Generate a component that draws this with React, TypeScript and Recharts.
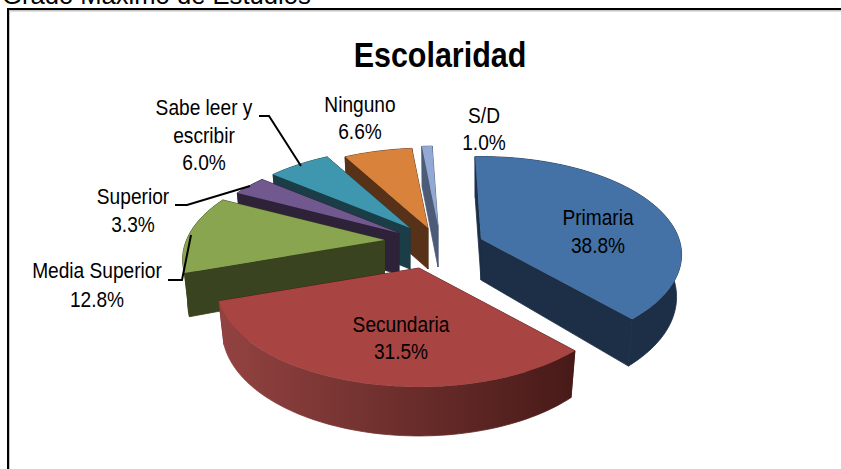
import React from "react";
import { PieChart, Pie } from "recharts";

const categories = ["S/D", "Ninguno", "Sabe leer y escribir", "Superior", "Media Superior", "Secundaria", "Primaria"];
const percentages = [1.0, 6.6, 6.0, 3.3, 12.8, 31.5, 38.8];

const chartTitle = "Escolaridad";
const pageHeading = "Grado Máximo de Estudios";

const tableRows = categories.map((name, i) => ({ name, value: percentages[i] }));

// layout and style, by category
const EXPLODE: Record<string, [number, number]> = {
  "S/D": [13, -14],
  Ninguno: [3, -12],
  "Sabe leer y escribir": [-15, -12],
  Superior: [-26, -7],
  "Media Superior": [-40.5, 0],
  Secundaria: [-6, 28],
  Primaria: [56, -1],
};
const PERSPECTIVE: Record<string, number> = {
  Primaria: 0.16,
};
const FACE: Record<string, string> = {
  "S/D": "#93A9D3",
  Ninguno: "#D9823B",
  "Sabe leer y escribir": "#3F97AF",
  Superior: "#71588F",
  "Media Superior": "#8AA54F",
  Secundaria: "#A84442",
  Primaria: "#4472A6",
};
const WALL: Record<string, [string, string]> = {
  "S/D": ["#4C5B78", "#4C5B78"],
  Ninguno: ["#573118", "#573118"],
  "Sabe leer y escribir": ["#1A3D47", "#1A3D47"],
  Superior: ["#2E2239", "#2E2239"],
  "Media Superior": ["#3A431F", "#3A431F"],
  Secundaria: ["#934341", "#471A18"],
  Primaria: ["#1C2F47", "#1C2F47"],
};
const LABEL: Record<string, { x: number; lines: string[]; y: number[]; leader?: [number, number][] }> = {
  Primaria: { x: 598, lines: ["Primaria"], y: [225, 253] },
  Secundaria: { x: 401, lines: ["Secundaria"], y: [332, 359] },
  "Media Superior": { x: 97, lines: ["Media Superior"], y: [278, 307], leader: [[168, 280], [182, 280], [191, 235]] },
  Superior: { x: 133, lines: ["Superior"], y: [204, 232], leader: [[175, 205], [187, 205], [250, 186]] },
  "Sabe leer y escribir": { x: 204, lines: ["Sabe leer y", "escribir"], y: [115, 143, 170], leader: [[259, 116], [269, 116], [301, 166]] },
  Ninguno: { x: 360, lines: ["Ninguno"], y: [112, 139] },
  "S/D": { x: 484, lines: ["S/D"], y: [123, 150] },
};

const FONT = "'Liberation Sans', Arial, sans-serif";
const TILT = 0.483;
const DEFAULT_PERSPECTIVE = 0.196;
const DEPTH = 41;

function rimPoint(a: number, r: number, k: number) {
  const rad = (a * Math.PI) / 180;
  const u = Math.sin(rad);
  const v = Math.cos(rad);
  const s = 1 / (1 + k * v);
  return { x: r * u * s, y: -r * TILT * v * s, v };
}
function lower(p: { x: number; y: number; v: number }) {
  const d = DEPTH + (p.v < 0 ? -p.v * 8 : 0);
  return { x: p.x * 0.975, y: p.y + d };
}
const poly = (pts: { x: number; y: number }[]) =>
  "M" + pts.map((p) => `${p.x.toFixed(2)},${p.y.toFixed(2)}`).join("L") + "Z";

function Slice3D(props: any) {
  const { cx, cy, outerRadius, startAngle, endAngle, name } = props;
  const [dx, dy] = EXPLODE[name];
  const k = PERSPECTIVE[name] ?? DEFAULT_PERSPECTIVE;
  const a0 = 90 - startAngle;
  const a1 = 90 - endAngle;
  const n = Math.max(4, Math.ceil(Math.abs(a1 - a0) / 1.5));
  const rim = Array.from({ length: n + 1 }, (_, i) => rimPoint(a0 + ((a1 - a0) * i) / n, outerRadius, k));
  const lowRim = rim.map(lower);
  const apex = { x: 0, y: 0 };
  const apexLow = { x: 0, y: DEPTH };
  const id = "wall-" + name.replace(/[^A-Za-z]/g, "");
  const [w0, w1] = WALL[name];
  const xs = rim.map((p) => p.x);
  return (
    <g transform={`translate(${cx + dx},${cy + dy})`}>
      <defs>
        <linearGradient id={id} gradientUnits="userSpaceOnUse" x1={Math.min(...xs)} x2={Math.max(...xs)} y1={0} y2={0}>
          <stop offset="0" stopColor={w0} />
          <stop offset="1" stopColor={w1} />
        </linearGradient>
      </defs>
      <path d={poly([apex, rim[0], lowRim[0], apexLow])} fill={w1} stroke={w1} strokeWidth={0.8} />
      <path d={poly([apex, rim[n], lowRim[n], apexLow])} fill={w1} stroke={w1} strokeWidth={0.8} />
      <path d={poly([...rim, ...lowRim.slice().reverse()])} fill={`url(#${id})`} stroke={`url(#${id})`} strokeWidth={0.8} />
      <path d={poly([apex, ...rim])} fill={FACE[name]} />
    </g>
  );
}

function SquishedText({ x, y, size = 22, sx = 0.87, bold, children }: any) {
  return (
    <text
      transform={`translate(${x},${y}) scale(${sx},1)`}
      textAnchor="middle"
      fontFamily={FONT}
      fontSize={size}
      fontWeight={bold ? 700 : 400}
      fill="#000"
    >
      {children}
    </text>
  );
}

function SliceLabel(props: any) {
  const { name, value } = props;
  const spec = LABEL[name];
  const rows = [...spec.lines, value.toFixed(1) + "%"];
  return (
    <g>
      {spec.leader && (
        <polyline points={spec.leader.map((p) => p.join(",")).join(" ")} fill="none" stroke="#000" strokeWidth={2} />
      )}
      {rows.map((t, i) => (
        <SquishedText key={i} x={spec.x} y={spec.y[i]}>
          {t}
        </SquishedText>
      ))}
    </g>
  );
}

export default function App() {
  return (
    <div style={{ position: "absolute", left: 0, top: 0, width: 841, height: 469, overflow: "hidden", background: "#fff" }}>
      <PieChart width={841} height={469} margin={{ top: 0, right: 0, bottom: 0, left: 0 }}>
        <path d="M8.5,469 L8.5,10 L841,10" fill="none" stroke="#c4c4c4" strokeWidth={3} />
        <path d="M8,469 L8,9 L841,9" fill="none" stroke="#000" strokeWidth={2} />
        <text x={2} y={4} fontFamily={FONT} fontSize={25.6} fill="#000">
          {pageHeading}
        </text>
        <SquishedText x={440} y={67} size={35} sx={0.87} bold>
          {chartTitle}
        </SquishedText>
        <Pie
          data={tableRows}
          dataKey="value"
          nameKey="name"
          cx={425}
          cy={240}
          innerRadius={0}
          outerRadius={198}
          startAngle={92}
          endAngle={452}
          stroke="none"
          isAnimationActive={false}
          shape={Slice3D}
          label={SliceLabel}
          labelLine={false}
        />
      </PieChart>
    </div>
  );
}
